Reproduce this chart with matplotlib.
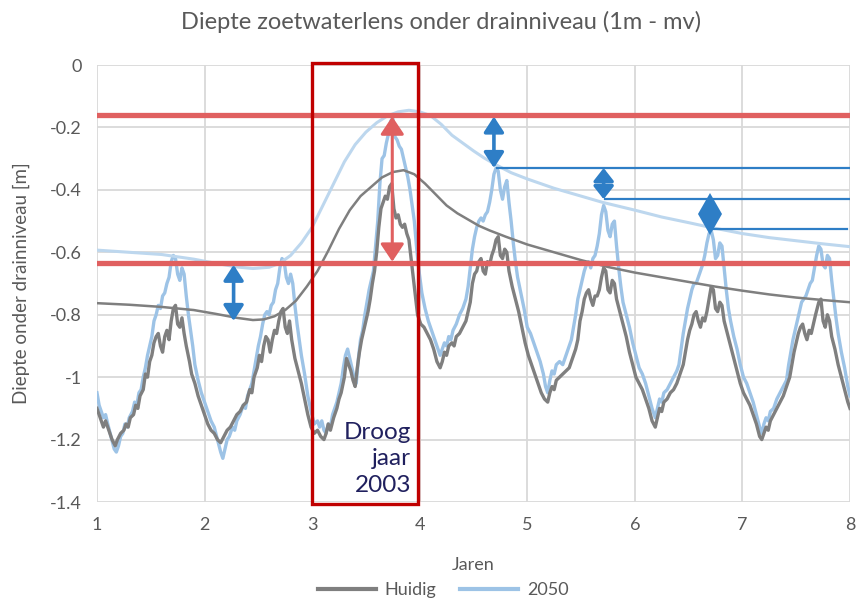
import matplotlib.pyplot as plt
from matplotlib.lines import Line2D
from matplotlib.patches import Rectangle

# Gemeten reeks (huidig klimaat), jaren 1..8
huidig = [
    (1.00, -1.10), (1.03, -1.13), (1.06, -1.16), (1.08, -1.14), (1.11, -1.17), (1.14, -1.20), (1.17, -1.22),
    (1.19, -1.20), (1.22, -1.18), (1.25, -1.17), (1.27, -1.15), (1.29, -1.16), (1.31, -1.13), (1.34, -1.12),
    (1.36, -1.09), (1.38, -1.10), (1.40, -1.06), (1.43, -1.04), (1.45, -0.99), (1.47, -1.00), (1.49, -0.95),
    (1.51, -0.93), (1.53, -0.89), (1.55, -0.87), (1.57, -0.86), (1.59, -0.90), (1.61, -0.92), (1.63, -0.87),
    (1.65, -0.85), (1.67, -0.88), (1.69, -0.82), (1.71, -0.78), (1.73, -0.77), (1.75, -0.83), (1.77, -0.84),
    (1.79, -0.81), (1.81, -0.86), (1.83, -0.90), (1.86, -0.95), (1.88, -0.99), (1.91, -1.02), (1.94, -1.06),
    (1.97, -1.09), (2.00, -1.12), (2.03, -1.15),
    (2.06, -1.17), (2.09, -1.18), (2.12, -1.20), (2.15, -1.21), (2.18, -1.19), (2.21, -1.17), (2.24, -1.16),
    (2.27, -1.14), (2.30, -1.12), (2.33, -1.11), (2.36, -1.09), (2.39, -1.08), (2.42, -1.04), (2.44, -1.05),
    (2.46, -1.00), (2.49, -0.97), (2.51, -0.93), (2.53, -0.95), (2.55, -0.90), (2.57, -0.87), (2.59, -0.88),
    (2.61, -0.92), (2.63, -0.88), (2.65, -0.85), (2.67, -0.86), (2.69, -0.82), (2.71, -0.79), (2.73, -0.78),
    (2.75, -0.84), (2.77, -0.86), (2.79, -0.82), (2.81, -0.88), (2.84, -0.94), (2.87, -0.98), (2.90, -1.02),
    (2.93, -1.07), (2.96, -1.12), (2.99, -1.16), (3.02, -1.18),
    (3.05, -1.17), (3.08, -1.19), (3.11, -1.20), (3.13, -1.18), (3.15, -1.15), (3.17, -1.17), (3.20, -1.13),
    (3.23, -1.10), (3.25, -1.07), (3.27, -1.05), (3.30, -1.00), (3.32, -0.94), (3.34, -0.96), (3.36, -0.98),
    (3.38, -1.01), (3.40, -1.03), (3.42, -0.97), (3.44, -0.92), (3.46, -0.88), (3.48, -0.85), (3.50, -0.82),
    (3.52, -0.79), (3.54, -0.75), (3.56, -0.70), (3.58, -0.66), (3.60, -0.60), (3.62, -0.52), (3.64, -0.46),
    (3.66, -0.44), (3.68, -0.42), (3.70, -0.43), (3.72, -0.39), (3.74, -0.38), (3.76, -0.46), (3.78, -0.49),
    (3.80, -0.48), (3.82, -0.51), (3.84, -0.52), (3.86, -0.51), (3.88, -0.54), (3.90, -0.56), (3.92, -0.62),
    (3.94, -0.68), (3.96, -0.74), (3.98, -0.80), (4.01, -0.83),
    (4.04, -0.84), (4.07, -0.86), (4.10, -0.88), (4.13, -0.91), (4.16, -0.95), (4.19, -0.97), (4.21, -0.95),
    (4.23, -0.92), (4.25, -0.93), (4.27, -0.90), (4.30, -0.89), (4.32, -0.90), (4.34, -0.87), (4.37, -0.86),
    (4.40, -0.84), (4.43, -0.82), (4.45, -0.79), (4.47, -0.76), (4.49, -0.70), (4.51, -0.67), (4.53, -0.66),
    (4.55, -0.63), (4.57, -0.62), (4.59, -0.66), (4.61, -0.67), (4.63, -0.63), (4.65, -0.64), (4.67, -0.61),
    (4.69, -0.59), (4.71, -0.56), (4.73, -0.55), (4.75, -0.61), (4.77, -0.62), (4.79, -0.59), (4.81, -0.60),
    (4.83, -0.66), (4.86, -0.71), (4.89, -0.75), (4.92, -0.79), (4.95, -0.84), (4.98, -0.89), (5.01, -0.93),
    (5.04, -0.96), (5.07, -0.99), (5.10, -1.02), (5.13, -1.05), (5.16, -1.07), (5.19, -1.08), (5.21, -1.05),
    (5.23, -1.03), (5.25, -1.04), (5.27, -1.01), (5.30, -1.00), (5.33, -0.99), (5.36, -0.98), (5.39, -0.97),
    (5.42, -0.94), (5.45, -0.91), (5.47, -0.88), (5.49, -0.82), (5.51, -0.79), (5.53, -0.75), (5.55, -0.73),
    (5.57, -0.72), (5.59, -0.75), (5.61, -0.77), (5.63, -0.74), (5.65, -0.74), (5.67, -0.72), (5.69, -0.68),
    (5.71, -0.65), (5.73, -0.66), (5.75, -0.72), (5.77, -0.73), (5.79, -0.69), (5.81, -0.70), (5.83, -0.75),
    (5.86, -0.79), (5.89, -0.83), (5.92, -0.87), (5.95, -0.92), (5.98, -0.96), (6.01, -1.00),
    (6.04, -1.02), (6.07, -1.04), (6.10, -1.07), (6.13, -1.10), (6.16, -1.14), (6.19, -1.16), (6.21, -1.13),
    (6.23, -1.10), (6.25, -1.11), (6.27, -1.08), (6.30, -1.07), (6.33, -1.05), (6.36, -1.04), (6.39, -1.02),
    (6.42, -0.99), (6.45, -0.96), (6.47, -0.92), (6.49, -0.88), (6.51, -0.85), (6.53, -0.83), (6.55, -0.80),
    (6.57, -0.79), (6.59, -0.82), (6.61, -0.84), (6.63, -0.81), (6.65, -0.82), (6.67, -0.79), (6.69, -0.75),
    (6.71, -0.71), (6.73, -0.72), (6.75, -0.78), (6.77, -0.79), (6.79, -0.76), (6.81, -0.77), (6.83, -0.82),
    (6.86, -0.86), (6.89, -0.90), (6.92, -0.94), (6.95, -0.98), (6.98, -1.02), (7.01, -1.05),
    (7.04, -1.07), (7.07, -1.09), (7.10, -1.12), (7.13, -1.15), (7.16, -1.19), (7.18, -1.20), (7.20, -1.18),
    (7.22, -1.16), (7.24, -1.17), (7.26, -1.14), (7.29, -1.12), (7.32, -1.10), (7.35, -1.08), (7.38, -1.06),
    (7.41, -1.03), (7.44, -1.00), (7.46, -0.96), (7.48, -0.92), (7.50, -0.89), (7.52, -0.86), (7.54, -0.84),
    (7.56, -0.83), (7.58, -0.86), (7.60, -0.88), (7.62, -0.85), (7.64, -0.86), (7.66, -0.83), (7.68, -0.80),
    (7.71, -0.76), (7.73, -0.75), (7.75, -0.82), (7.77, -0.84), (7.79, -0.80), (7.81, -0.82), (7.83, -0.87),
    (7.86, -0.91), (7.89, -0.96), (7.92, -1.00), (7.95, -1.04), (7.98, -1.08), (8.00, -1.10),
]

# Reeks klimaatscenario 2050
scen_2050 = [
    (1.00, -1.05), (1.02, -1.09), (1.04, -1.11), (1.06, -1.13), (1.08, -1.12), (1.10, -1.15), (1.13, -1.19),
    (1.16, -1.23), (1.18, -1.24), (1.20, -1.22), (1.22, -1.19), (1.24, -1.18), (1.26, -1.15), (1.28, -1.16),
    (1.30, -1.13), (1.33, -1.11), (1.35, -1.08), (1.37, -1.09), (1.39, -1.05), (1.41, -1.04), (1.43, -1.00),
    (1.45, -0.97), (1.47, -0.93), (1.49, -0.90), (1.51, -0.87), (1.53, -0.82), (1.55, -0.80), (1.57, -0.77),
    (1.59, -0.78), (1.61, -0.74), (1.63, -0.73), (1.65, -0.70), (1.67, -0.68), (1.69, -0.63), (1.71, -0.61),
    (1.73, -0.62), (1.75, -0.67), (1.77, -0.69), (1.79, -0.65), (1.81, -0.67), (1.83, -0.74), (1.85, -0.80),
    (1.87, -0.85), (1.89, -0.90), (1.91, -0.96), (1.94, -1.01), (1.97, -1.05), (2.00, -1.08), (2.03, -1.11),
    (2.06, -1.14), (2.09, -1.16), (2.12, -1.20), (2.15, -1.24), (2.17, -1.26), (2.19, -1.23), (2.21, -1.20),
    (2.23, -1.19), (2.26, -1.16), (2.28, -1.17), (2.30, -1.14), (2.33, -1.12), (2.36, -1.09), (2.38, -1.10),
    (2.40, -1.06), (2.42, -1.04), (2.44, -1.02), (2.46, -0.98), (2.48, -0.94), (2.50, -0.90), (2.52, -0.87),
    (2.54, -0.83), (2.56, -0.80), (2.58, -0.79), (2.60, -0.80), (2.62, -0.77), (2.64, -0.76), (2.66, -0.72),
    (2.68, -0.70), (2.70, -0.65), (2.72, -0.62), (2.74, -0.63), (2.76, -0.68), (2.78, -0.70), (2.80, -0.67),
    (2.82, -0.70), (2.84, -0.77), (2.86, -0.83), (2.88, -0.88), (2.90, -0.93), (2.93, -0.99), (2.96, -1.06),
    (2.99, -1.11), (3.02, -1.15),
    (3.05, -1.14), (3.07, -1.16), (3.09, -1.14), (3.11, -1.17), (3.13, -1.18), (3.15, -1.15), (3.17, -1.16),
    (3.19, -1.12), (3.21, -1.10), (3.23, -1.08), (3.25, -1.05), (3.27, -1.02), (3.29, -0.97), (3.31, -0.93),
    (3.33, -0.91), (3.35, -0.94), (3.37, -0.97), (3.39, -1.00), (3.41, -1.02), (3.43, -0.94), (3.45, -0.88),
    (3.47, -0.85), (3.49, -0.80), (3.51, -0.76), (3.53, -0.72), (3.55, -0.69), (3.57, -0.66), (3.59, -0.58),
    (3.61, -0.50), (3.63, -0.38), (3.65, -0.30), (3.67, -0.29), (3.69, -0.25), (3.71, -0.22), (3.73, -0.18),
    (3.75, -0.17), (3.77, -0.23), (3.79, -0.24), (3.81, -0.26), (3.83, -0.27), (3.85, -0.30), (3.87, -0.33),
    (3.89, -0.36), (3.91, -0.40), (3.93, -0.45), (3.95, -0.50), (3.97, -0.58), (3.99, -0.65), (4.02, -0.73),
    (4.05, -0.78), (4.08, -0.82), (4.11, -0.85), (4.14, -0.88), (4.17, -0.91), (4.19, -0.93), (4.21, -0.91),
    (4.23, -0.89), (4.25, -0.90), (4.27, -0.87), (4.29, -0.88), (4.31, -0.85), (4.34, -0.83), (4.37, -0.80),
    (4.40, -0.78), (4.43, -0.75), (4.45, -0.71), (4.47, -0.65), (4.49, -0.59), (4.51, -0.55), (4.53, -0.52),
    (4.55, -0.50), (4.57, -0.49), (4.59, -0.50), (4.61, -0.48), (4.63, -0.47), (4.65, -0.44), (4.67, -0.40),
    (4.69, -0.35), (4.71, -0.33), (4.73, -0.34), (4.75, -0.40), (4.77, -0.43), (4.79, -0.39), (4.81, -0.37),
    (4.83, -0.44), (4.85, -0.50), (4.87, -0.57), (4.89, -0.63), (4.91, -0.68), (4.94, -0.73), (4.97, -0.78),
    (5.00, -0.84),
    (5.03, -0.86), (5.06, -0.89), (5.09, -0.92), (5.12, -0.95), (5.15, -0.99), (5.17, -1.03), (5.19, -1.05),
    (5.21, -1.01), (5.23, -0.98), (5.25, -0.99), (5.27, -0.96), (5.30, -0.95), (5.33, -0.96), (5.36, -0.93),
    (5.39, -0.90), (5.41, -0.88), (5.43, -0.84), (5.45, -0.80), (5.47, -0.75), (5.49, -0.72), (5.51, -0.69),
    (5.53, -0.66), (5.55, -0.64), (5.57, -0.63), (5.59, -0.65), (5.61, -0.62), (5.63, -0.61), (5.65, -0.58),
    (5.67, -0.54), (5.69, -0.48), (5.71, -0.45), (5.73, -0.47), (5.75, -0.53), (5.77, -0.55), (5.79, -0.51),
    (5.81, -0.50), (5.83, -0.58), (5.85, -0.65), (5.87, -0.71), (5.89, -0.76), (5.92, -0.80), (5.95, -0.84),
    (5.98, -0.89), (6.01, -0.93),
    (6.04, -0.97), (6.07, -0.99), (6.10, -1.02), (6.13, -1.06), (6.16, -1.10), (6.19, -1.13), (6.21, -1.10),
    (6.23, -1.07), (6.25, -1.08), (6.27, -1.05), (6.30, -1.04), (6.33, -1.02), (6.36, -1.00), (6.39, -0.98),
    (6.41, -0.96), (6.43, -0.91), (6.45, -0.86), (6.47, -0.82), (6.49, -0.78), (6.51, -0.75), (6.53, -0.72),
    (6.55, -0.70), (6.57, -0.70), (6.59, -0.68), (6.61, -0.66), (6.63, -0.64), (6.65, -0.61), (6.67, -0.57),
    (6.69, -0.54), (6.71, -0.53), (6.73, -0.56), (6.75, -0.62), (6.77, -0.61), (6.79, -0.57), (6.81, -0.58),
    (6.83, -0.65), (6.85, -0.72), (6.87, -0.78), (6.89, -0.82), (6.92, -0.87), (6.95, -0.91), (6.98, -0.96),
    (7.01, -1.00),
    (7.04, -1.02), (7.07, -1.05), (7.10, -1.08), (7.13, -1.12), (7.16, -1.16), (7.18, -1.18), (7.20, -1.15),
    (7.22, -1.13), (7.24, -1.14), (7.26, -1.11), (7.29, -1.10), (7.32, -1.07), (7.35, -1.05), (7.38, -1.03),
    (7.41, -1.01), (7.43, -0.96), (7.45, -0.92), (7.47, -0.88), (7.49, -0.85), (7.51, -0.82), (7.53, -0.79),
    (7.55, -0.76), (7.57, -0.75), (7.59, -0.74), (7.61, -0.72), (7.63, -0.70), (7.65, -0.69), (7.67, -0.65),
    (7.69, -0.61), (7.71, -0.58), (7.73, -0.59), (7.75, -0.64), (7.77, -0.65), (7.79, -0.61), (7.81, -0.62),
    (7.83, -0.69), (7.85, -0.75), (7.87, -0.81), (7.89, -0.86), (7.92, -0.92), (7.95, -0.97), (7.98, -1.03),
    (8.00, -1.06),
]

# Trendlijnen (afgevlakt)
trend_huidig = [
    (1.0, -0.763), (1.3, -0.768), (1.6, -0.775), (1.9, -0.785), (2.1, -0.797), (2.3, -0.81), (2.45, -0.817),
    (2.55, -0.815), (2.65, -0.805), (2.75, -0.785), (2.85, -0.755), (2.95, -0.71), (3.05, -0.66), (3.15, -0.595),
    (3.25, -0.525), (3.35, -0.465), (3.45, -0.42), (3.55, -0.39), (3.65, -0.36), (3.75, -0.343), (3.85, -0.337),
    (3.95, -0.35), (4.05, -0.38), (4.15, -0.415), (4.25, -0.45), (4.35, -0.475), (4.45, -0.495), (4.55, -0.515),
    (4.65, -0.53), (4.8, -0.55), (5.0, -0.575), (5.25, -0.6), (5.5, -0.625), (5.75, -0.647), (6.0, -0.665),
    (6.25, -0.68), (6.5, -0.695), (6.75, -0.71), (7.0, -0.723), (7.25, -0.735), (7.5, -0.745), (7.75, -0.753),
    (8.0, -0.76),
]
trend_2050 = [
    (1.0, -0.593), (1.3, -0.6), (1.6, -0.607), (1.9, -0.622), (2.1, -0.635), (2.3, -0.647), (2.45, -0.652),
    (2.6, -0.648), (2.7, -0.635), (2.8, -0.61), (2.9, -0.57), (3.0, -0.52), (3.1, -0.45), (3.2, -0.38),
    (3.3, -0.31), (3.4, -0.255), (3.5, -0.215), (3.6, -0.185), (3.7, -0.163), (3.8, -0.15), (3.9, -0.145),
    (4.0, -0.15), (4.1, -0.162), (4.2, -0.19), (4.3, -0.225), (4.4, -0.25), (4.5, -0.275), (4.6, -0.298),
    (4.7, -0.318), (4.85, -0.345), (5.0, -0.365), (5.25, -0.395), (5.5, -0.42), (5.7, -0.44), (6.0, -0.465),
    (6.25, -0.487), (6.5, -0.505), (6.7, -0.52), (7.0, -0.54), (7.25, -0.553), (7.5, -0.563), (7.75, -0.573),
    (8.0, -0.582),
]

grens_boven = -0.16
grens_onder = -0.635
# (x, y_boven, y_onder, kopgrootte)
blauwe_pijlen = [(2.27, -0.64, -0.82, 0.85), (4.69, -0.165, -0.33, 0.85), (5.71, -0.33, -0.43, 0.7)]
blauwe_ruit = (6.70, -0.43, -0.525)
blauwe_lijnen = [(4.72, -0.33, 8.0), (5.72, -0.43, 8.0), (6.70, -0.525, 7.97)]

plt.rcParams["font.family"] = ["Lato", "DejaVu Sans"]
tekst_kleur = "#595959"
blauw = "#2e7ec6"

fig = plt.figure(figsize=(8.59, 5.98), dpi=100)
ax = fig.add_axes([0.1129, 0.1605, 0.8766, 0.7308])

ax.plot(*zip(*huidig), color="#7f7f7f", lw=2.4, zorder=3)
ax.plot(*zip(*scen_2050), color="#9dc3e6", lw=2.4, zorder=2)
ax.plot(*zip(*trend_huidig), color="#7f7f7f", lw=1.8, zorder=4)
ax.plot(*zip(*trend_2050), color="#bdd7ee", lw=2.2, zorder=4)

ax.axhline(grens_boven, color="#e06060", lw=3.8, zorder=5)
ax.axhline(grens_onder, color="#e06060", lw=3.8, zorder=5)

ax.add_patch(Rectangle((3.0, -1.405), 0.98, 1.41, fill=False, ec="#c00000", lw=2.4,
                       zorder=6, clip_on=False))

ax.annotate("", xy=(3.745, grens_boven - 0.005), xytext=(3.745, grens_onder + 0.005),
            arrowprops=dict(arrowstyle="<|-|>,head_length=0.9,head_width=0.6", color="#e06060",
                            lw=2.2, mutation_scale=12, shrinkA=0, shrinkB=0), zorder=7)

for x, y1, y2, kop in blauwe_pijlen:
    ax.annotate("", xy=(x, y1), xytext=(x, y2),
                arrowprops=dict(arrowstyle=f"<|-|>,head_length={kop},head_width=0.55",
                                color=blauw, lw=2.6, mutation_scale=11, shrinkA=0, shrinkB=0),
                zorder=7)
# pijl zo kort dat alleen een ruit overblijft
rx, ry1, ry2 = blauwe_ruit
ax.plot(rx, (ry1 + ry2) / 2, marker="d", ms=21, color=blauw, mew=0, zorder=7)

for x, y, x_eind in blauwe_lijnen:
    ax.plot([x, x_eind], [y, y], color=blauw, lw=1.6, zorder=7)

ax.text(3.92, -1.262, "Droog\njaar\n2003", ha="right", va="center", color="#20205e",
        fontsize=17.5, linespacing=1.3, zorder=8)

ax.set_xlim(1, 8)
ax.set_ylim(-1.4, 0)
ax.set_xticks(range(1, 9))
ax.set_yticks([-1.4, -1.2, -1.0, -0.8, -0.6, -0.4, -0.2, 0])
ax.set_yticklabels(["-1.4", "-1.2", "-1", "-0.8", "-0.6", "-0.4", "-0.2", "0"])
ax.grid(True, color="#d9d9d9", lw=1.3)
ax.set_axisbelow(True)
for s in ax.spines.values():
    s.set_visible(False)
ax.tick_params(length=0, labelsize=13, colors=tekst_kleur, pad=11)

fig.text(0.513, 0.963, "Diepte zoetwaterlens onder drainniveau (1m - mv)", color=tekst_kleur,
         fontsize=17, ha="center", va="center")
ax.set_ylabel("Diepte onder drainniveau [m]", color=tekst_kleur, fontsize=13.5, labelpad=14)
ax.set_xlabel("Jaren", color=tekst_kleur, fontsize=13, labelpad=17)

handles = [Line2D([], [], color="#7f7f7f", lw=3), Line2D([], [], color="#9dc3e6", lw=3)]
fig.legend(handles, ["Huidig", "2050"], loc="lower center", bbox_to_anchor=(0.516, -0.027),
           ncol=2, frameon=False, fontsize=13, labelcolor=tekst_kleur,
           handlelength=3.2, handletextpad=0.5, columnspacing=1.3)

fig.savefig("out.png", dpi=100)
